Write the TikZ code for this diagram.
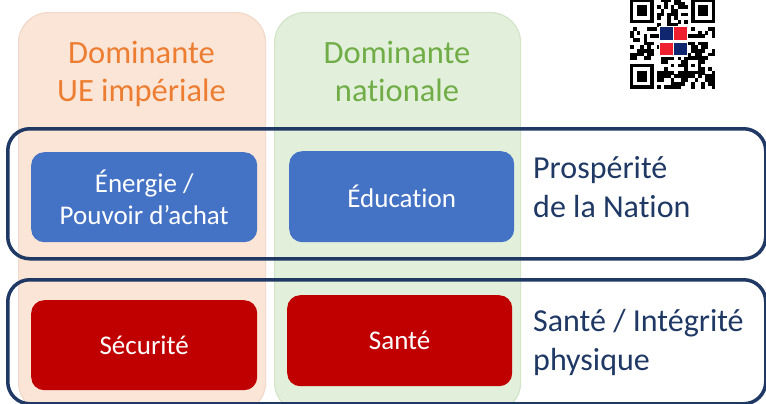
\documentclass[tikz,border=0pt]{standalone}
\usepackage{fontspec}
\setmainfont{Carlito}[Ligatures=NoCommon]
\definecolor{orfill}{HTML}{FBE5D6}
\definecolor{orline}{HTML}{F1D9CB}
\definecolor{grfill}{HTML}{E2EFDA}
\definecolor{grline}{HTML}{D3E4C8}
\definecolor{ortext}{HTML}{ED7D31}
\definecolor{grtext}{HTML}{70AD47}
\definecolor{navy}{HTML}{1F3864}
\definecolor{bluebx}{HTML}{4472C4}
\definecolor{redbx}{HTML}{C00000}
\definecolor{qrnavy}{HTML}{102770}
\definecolor{qrred}{HTML}{EE2030}
\begin{document}
\begin{tikzpicture}[x=1pt,y=-1pt,
  column/.style={rectangle, rounded corners=30pt, line width=1.2pt, inner sep=0pt, anchor=north west},
  frame/.style={rectangle, rounded corners=22pt, draw=navy, line width=3.5pt, inner sep=0pt, anchor=north west},
  colbox/.style={rectangle, rounded corners=13pt, inner sep=0pt, anchor=north west, text=white, align=center,
    font={\fontsize{27}{32}\selectfont}},
  headtext/.style={inner sep=0pt, align=center, anchor=base, font={\fontsize{32.5}{39}\selectfont}},
  sidetext/.style={inner sep=0pt, align=left, anchor=base west, text=navy, font={\fontsize{32}{38.5}\selectfont}}
]
\useasboundingbox (0,0) rectangle (766,404);
\clip (0,0) rectangle (766,404);
\fill[white] (0,0) rectangle (766,404);

% columns
\node[column, fill=orfill, draw=orline, minimum width=247pt, minimum height=400pt] (colUE) at (18,12) {};
\node[column, fill=grfill, draw=grline, minimum width=246pt, minimum height=400pt] (colNat) at (274,12) {};

% headers (anchor = baseline of last line)
\node[headtext, text=ortext] (hUE) at (141.5,102) {Dominante\\UE impériale};
\node[headtext, text=grtext] (hNat) at (397,102) {Dominante\\nationale};

% frames
\node[frame, minimum width=758pt, minimum height=130pt] (fProsp) at (6,127) {};
\node[frame, minimum width=758pt, minimum height=124pt] (fSante) at (6,278) {};

% boxes
\node[colbox, fill=bluebx, minimum width=226pt, minimum height=90pt] (bEnergie) at (31,152) {Énergie /\\Pouvoir d’achat};
\node[colbox, fill=bluebx, minimum width=225pt, minimum height=91pt] (bEduc) at (289,151) {Éducation};
\node[colbox, fill=redbx, minimum width=226pt, minimum height=90pt] (bSecu) at (31,300) {Sécurité};
\node[colbox, fill=redbx, minimum width=225pt, minimum height=91pt] (bSante) at (287,295) {Santé};

% side labels (anchor = baseline of last line)
\node[sidetext] (lProsp) at (533,217) {Prospérité\\de la Nation};
\node[sidetext] (lSante) at (533,370) {Santé / Intégrité\\physique};

% QR code
\pgfmathsetseed{17}
\def\qx{630}\def\qy{-2}\def\qw{3.4}\def\qh{3.64}
\foreach \i in {0,...,24}{
  \foreach \j in {0,...,24}{
    \pgfmathtruncatemacro\bit{rnd<0.5 ? 1 : 0}
    \ifnum\bit=1
      \fill[black] ({\qx+\i*\qw},{\qy+\j*\qh}) rectangle ++(\qw+0.15,\qh+0.15);
    \fi
  }
}
\foreach \fx/\fy/\sx/\sy in {0/0/0/0, 18/0/17/0, 0/18/0/17}{
  \fill[white] ({\qx+\sx*\qw},{\qy+\sy*\qh}) rectangle ++(8*\qw,8*\qh);
  \fill[black] ({\qx+\fx*\qw},{\qy+\fy*\qh}) rectangle ++(7*\qw,7*\qh);
  \fill[white] ({\qx+(\fx+1)*\qw},{\qy+(\fy+1)*\qh}) rectangle ++(5*\qw,5*\qh);
  \fill[black] ({\qx+(\fx+2)*\qw},{\qy+(\fy+2)*\qh}) rectangle ++(3*\qw,3*\qh);
}
\fill[black] ({\qx+16*\qw},{\qy+16*\qh}) rectangle ++(5*\qw,5*\qh);
\fill[white] ({\qx+17*\qw},{\qy+17*\qh}) rectangle ++(3*\qw,3*\qh);
\fill[black] ({\qx+18*\qw},{\qy+18*\qh}) rectangle ++(\qw,\qh);
% logo
\fill[white] (658.7,26) rectangle (688.3,56.7);
\fill[qrnavy] (660.3,27.3) rectangle (672.7,40);
\fill[qrred] (674.3,27.3) rectangle (686.7,40);
\fill[qrred] (660.3,42.7) rectangle (672.7,55);
\fill[qrnavy] (674.3,42.7) rectangle (686.7,55);
\end{tikzpicture}
\end{document}
